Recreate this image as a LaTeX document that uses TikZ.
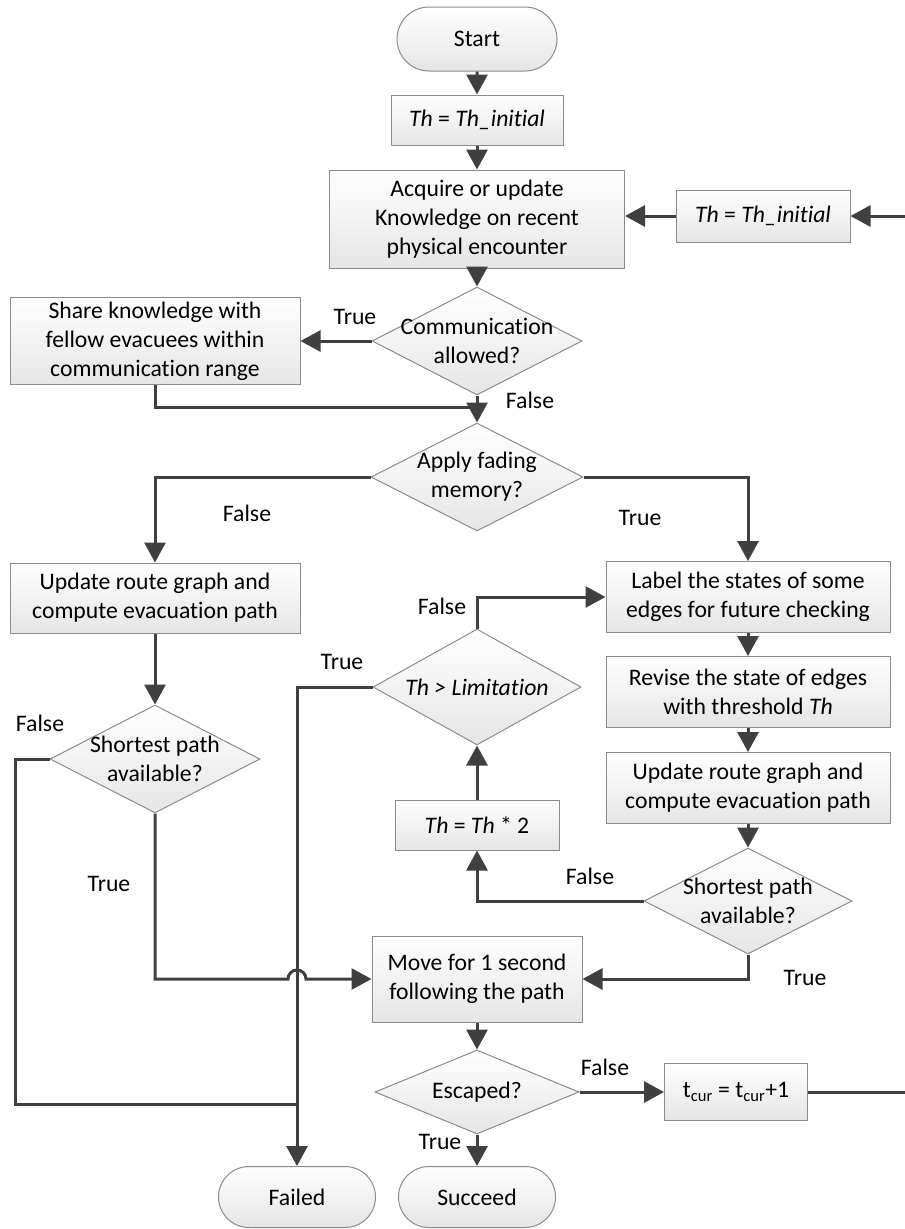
\documentclass[tikz,border=0pt]{standalone}
\usepackage{fontspec}
\setmainfont{Carlito}[Ligatures=NoCommon,RawFeature={-calt;-liga;-dlig}]
\usetikzlibrary{arrows.meta,shapes.geometric,shapes.misc}
\definecolor{linegray}{HTML}{404040}
\definecolor{boxline}{HTML}{8C8C8C}
\tikzset{
    Shaded/.style = {draw=boxline,line width=1pt,top color=white,bottom color=black!10},
    Box/.style = {Shaded,rectangle,align=center,inner sep=0pt},
    Terminal/.style = {Shaded,rounded rectangle,inner sep=0pt},
    Decision/.style = {Shaded,diamond,inner sep=0pt},
    Link/.style = {draw=linegray,line width=3pt},
    Flow/.style = {Link,-{Triangle[length=20pt,width=21pt]}},
    Tag/.style = {inner sep=0pt}
}
\begin{document}
\begin{tikzpicture}[x=1pt,y=-1pt,font=\fontsize{23.7}{28.9}\selectfont]
        \useasboundingbox (0,0) rectangle (905,1229);
        % main column
        \node[Terminal,minimum width=160pt,minimum height=64pt] (start) at (477,39) {Start};
        \node[Box,minimum width=172pt,minimum height=50pt] (thinit) at (477,120) {\textit{Th} = \textit{Th\_initial}};
        \node[Box,minimum width=295pt,minimum height=98pt] (acquire) at (477,219) {Acquire or update\\Knowledge on recent\\physical encounter};
        \node[Box,minimum width=174pt,minimum height=52pt] (threset) at (763,216) {\textit{Th} = \textit{Th\_initial}};
        \node[Decision,minimum width=210pt,minimum height=108pt,
              label={[align=center]center:Communication\\allowed?}] (comm) at (477,341) {};
        \node[Box,minimum width=290pt,minimum height=87pt] (share) at (155,341) {Share knowledge with\\fellow evacuees within\\communication range};
        \node[Decision,minimum width=212pt,minimum height=108pt,
              label={[align=center]center:Apply fading\\memory?}] (apply) at (477,477) {};
        % left branch
        \node[Box,minimum width=290pt,minimum height=70pt] (updleft) at (155,598) {Update route graph and\\compute evacuation path};
        \node[Decision,minimum width=210pt,minimum height=108pt,
              label={[align=center]center:Shortest path\\available?}] (pathleft) at (155,759) {};
        % right branch
        \node[Box,minimum width=284pt,minimum height=71pt] (labeling) at (748,597) {Label the states of some\\edges for future checking};
        \node[Box,minimum width=284pt,minimum height=71pt] (revise) at (748,692) {Revise the state of edges\\with threshold \textit{Th}};
        \node[Box,minimum width=284pt,minimum height=71pt] (updright) at (748,788) {Update route graph and\\compute evacuation path};
        \node[Decision,minimum width=208pt,minimum height=106pt,
              label={[align=center]center:Shortest path\\available?}] (pathright) at (748,901) {};
        \node[Decision,minimum width=208pt,minimum height=116pt,
              label={center:\textit{Th > Limitation}}] (limit) at (477,687) {};
        \node[Box,minimum width=164pt,minimum height=50pt] (thdouble) at (477,825) {\textit{Th} = \textit{Th} * 2};
        % bottom
        \node[Box,minimum width=210pt,minimum height=86pt] (move) at (477,979) {Move for 1 second\\following the path};
        \node[Decision,minimum width=204pt,minimum height=84pt,
              label={center:Escaped?}] (escaped) at (477,1092) {};
        \node[Box,minimum width=143pt,minimum height=57pt] (tcur) at (736,1092) {t\textsubscript{cur} = t\textsubscript{cur}+1};
        \node[Terminal,minimum width=157pt,minimum height=61pt] (failed) at (297,1197) {Failed};
        \node[Terminal,minimum width=157pt,minimum height=61pt] (succeed) at (477,1197) {Succeed};
        % turning points
        \coordinate (sharejoin) at (477,407);
        \coordinate (leftturn) at (15,1104);
        \coordinate (failjoin) at (297,1104);
        \coordinate (hop) at (297,979);
        \coordinate (loopend) at (918,1092);
        % straight arrows
        \foreach \a/\b in {start/thinit,thinit/acquire,acquire/comm,comm/apply,updleft/pathleft,
                           labeling/revise,revise/updright,updright/pathright,thdouble/limit,
                           move/escaped,escaped/succeed}
            {\draw[Flow] (\a) -- (\b);}
        \draw[Flow] (threset.west) -- (threset.west -| acquire.east);
        \draw[Flow] (tcur.east) -- (loopend) |- (threset.east);
        \draw[Flow] (comm.west) -- (share.east);
        \draw[Link] (share.south) |- (sharejoin);
        \draw[Flow] (apply.west) -| (updleft.north);
        \draw[Flow] (apply.east) -| (labeling.north);
        \draw[Flow] (limit.north) |- (labeling.west);
        \draw[Flow] (limit.west) -| (failed.north);
        \draw[Flow] (pathright.west) -| (thdouble.south);
        \draw[Flow] (pathright.south) |- (move.east);
        \draw[Link] (pathleft.west) -| (leftturn) -- (failjoin);
        \draw[Flow] (pathleft.south) |- ([xshift=-9pt]hop) arc[start angle=180,end angle=0,radius=9pt] -- (move.west);
        \draw[Flow] (escaped.east) -- (tcur.west);
        % branch tags
        \node[Tag] (tcomm) at (355,317) {True};
        \node[Tag] (fcomm) at (530,400) {False};
        \node[Tag] (fapply) at (247,513) {False};
        \node[Tag] (tapply) at (640,518) {True};
        \node[Tag] (flimit) at (442,606) {False};
        \node[Tag] (tlimit) at (342,662) {True};
        \node[Tag] (fleft) at (40,723) {False};
        \node[Tag] (tleft) at (109,884) {True};
        \node[Tag] (fright) at (590,876) {False};
        \node[Tag] (tright) at (805,978) {True};
        \node[Tag] (fesc) at (605,1067) {False};
        \node[Tag] (tesc) at (440,1142) {True};
\end{tikzpicture}
\end{document}
